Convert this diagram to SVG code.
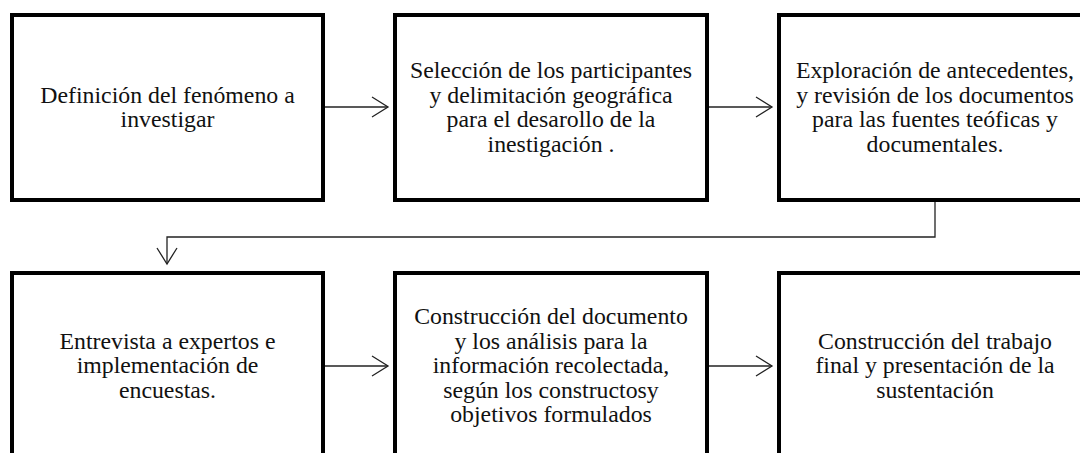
<svg xmlns="http://www.w3.org/2000/svg" width="1080" height="453" viewBox="0 0 1080 453">
<style>
.box{fill:#fff;stroke:#000;stroke-width:4}
.lbl{font-family:'Liberation Serif','Times New Roman',serif;font-size:23.8px;fill:#111;text-anchor:middle}
.con{fill:none;stroke:#222;stroke-width:1.3;marker-end:url(#arr)}
</style>
<defs>
<marker id="arr" markerUnits="userSpaceOnUse" markerWidth="20" markerHeight="22" refX="16" refY="10" orient="auto" overflow="visible">
<path d="M0,0 L16,10 L0,20" fill="none" stroke="#222" stroke-width="1.3"/>
</marker>
</defs>
<rect width="1080" height="453" fill="#fff"/>
<g id="connectors">
<line class="con" x1="325" y1="107" x2="388" y2="107"/>
<line class="con" x1="709" y1="107" x2="772" y2="107"/>
<polyline class="con" points="935,202 935,237 167,237 167,264"/>
<line class="con" x1="325" y1="366" x2="388" y2="366"/>
<line class="con" x1="709" y1="366" x2="772" y2="366"/>
</g>
<g id="n1">
<rect class="box" x="12" y="15" width="311" height="185"/>
<text class="lbl"><tspan x="167.5" y="102.75">Definición del fenómeno a</tspan><tspan x="167.5" y="127.25">investigar</tspan></text>
</g>
<g id="n2">
<rect class="box" x="395" y="15" width="312" height="185"/>
<text class="lbl"><tspan x="551" y="78.25">Selección de los participantes</tspan><tspan x="551" y="102.75">y delimitación geográfica</tspan><tspan x="551" y="127.25">para el desarollo de la</tspan><tspan x="551" y="151.75">inestigación .</tspan></text>
</g>
<g id="n3">
<rect class="box" x="779" y="15" width="312" height="185"/>
<text class="lbl"><tspan x="935" y="78.25">Exploración de antecedentes,</tspan><tspan x="935" y="102.75">y revisión de los documentos</tspan><tspan x="935" y="127.25">para las fuentes teóficas y</tspan><tspan x="935" y="151.75">documentales.</tspan></text>
</g>
<g id="n4">
<rect class="box" x="12" y="273" width="311" height="185"/>
<text class="lbl"><tspan x="167.5" y="348.5">Entrevista a expertos e</tspan><tspan x="167.5" y="373">implementación de</tspan><tspan x="167.5" y="397.5">encuestas.</tspan></text>
</g>
<g id="n5">
<rect class="box" x="395" y="273" width="312" height="185"/>
<text class="lbl"><tspan x="551" y="324">Construcción del documento</tspan><tspan x="551" y="348.5">y los análisis para la</tspan><tspan x="551" y="373">información recolectada,</tspan><tspan x="551" y="397.5">según los constructosy</tspan><tspan x="551" y="422">objetivos formulados</tspan></text>
</g>
<g id="n6">
<rect class="box" x="779" y="273" width="312" height="185"/>
<text class="lbl"><tspan x="935" y="348.5">Construcción del trabajo</tspan><tspan x="935" y="373">final y presentación de la</tspan><tspan x="935" y="397.5">sustentación</tspan></text>
</g>
</svg>
